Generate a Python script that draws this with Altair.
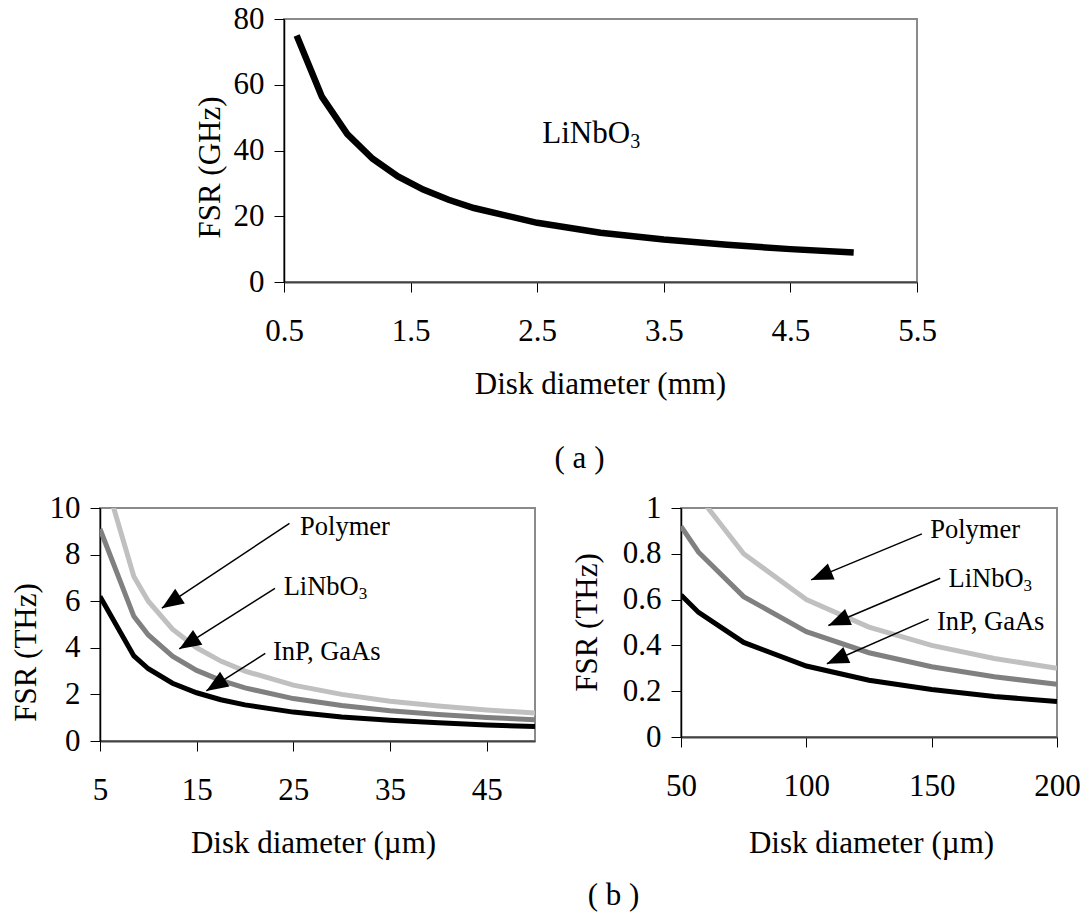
import math

import altair as alt
import pandas as pd

FONT = "Liberation Serif"

# ---- (a) LiNbO3 disk: diameter in mm, FSR in GHz ----
mm_diameter = [0.6, 0.8, 1.0, 1.2, 1.4, 1.6, 1.8, 2.0, 2.5, 3.0, 3.5, 4.0, 4.5, 5.0]
mm_fsr_ghz = [75.0, 56.3, 45.0, 37.5, 32.1, 28.1, 25.0, 22.5, 18.0, 15.0, 12.9, 11.3, 10.0, 9.0]

# ---- (b) left: small disks, diameter in um, FSR in THz ----
um_small = [5, 8.5, 10, 12.5, 15, 17.5, 20, 25, 30, 35, 40, 45, 50]
small_polymer = [12.0, 7.06, 6.0, 4.8, 4.0, 3.43, 3.0, 2.4, 2.0, 1.71, 1.5, 1.33, 1.2]
small_linbo3 = [9.1, 5.35, 4.55, 3.64, 3.03, 2.6, 2.28, 1.82, 1.52, 1.3, 1.14, 1.01, 0.91]
small_inp = [6.2, 3.65, 3.1, 2.48, 2.07, 1.77, 1.55, 1.24, 1.03, 0.89, 0.78, 0.69, 0.62]

# ---- (b) right: larger disks, diameter in um, FSR in THz ----
um_large = [50, 57, 75, 100, 125, 150, 175, 200]
large_polymer = [1.2, 1.053, 0.8, 0.6, 0.48, 0.4, 0.343, 0.3]
large_linbo3 = [0.92, 0.807, 0.613, 0.46, 0.368, 0.307, 0.263, 0.23]
large_inp = [0.62, 0.544, 0.413, 0.31, 0.248, 0.207, 0.177, 0.155]

materials = ["Polymer", "LiNbO", "InP, GaAs"]
subscripts = ["", "3", ""]
material_colors = ["#c0c0c0", "#808080", "#000000"]

# Callout labels (text anchor) and arrows (tail -> head), in data units
small_text_x = [25.7, 24.0, 22.9]
small_text_y = [8.84, 6.27, 3.48]
small_tail_x = [24.6, 23.1, 22.1]
small_tail_y = [9.34, 6.55, 3.76]
small_head_x = [11.4, 13.2, 16.0]
small_head_y = [5.70, 3.95, 2.15]

large_text_x = [149.4, 156.7, 152.1]
large_text_y = [0.868, 0.657, 0.468]
large_tail_x = [146.1, 153.4, 148.8]
large_tail_y = [0.887, 0.693, 0.515]
large_head_x = [101.9, 108.8, 108.2]
large_head_y = [0.686, 0.487, 0.320]

top_label_x = [2.54]
top_label_y = [42.3]

# Arrowhead outline with its tip at the symbol origin
ARROW_HEAD = "M0,0L-0.4,1L0.4,1Z"

AXIS_BASE = dict(
    grid=False,
    labelFont=FONT,
    labelFontSize=31,
    labelColor="black",
    labelFlush=False,
    labelOverlap=False,
    titleFont=FONT,
    titleFontSize=31,
    titleFontWeight="normal",
    titleColor="black",
    tickColor="black",
    tickWidth=1,
    tickSize=10,
)


def x_axis(values, title, title_x, title_y, fmt="~f"):
    return alt.Axis(
        values=values,
        format=fmt,
        title=title,
        titleX=title_x,
        titleY=title_y,
        titleBaseline="alphabetic",
        labelBaseline="alphabetic",
        labelPadding=48,
        domainColor="#444444",
        domainWidth=2,
        **AXIS_BASE,
    )


def y_axis(values, title, title_x, title_y, fmt="~f"):
    return alt.Axis(
        values=values,
        format=fmt,
        title=title,
        titleX=title_x,
        titleY=title_y,
        titleBaseline="alphabetic",
        labelPadding=10,
        domainColor="black",
        domainWidth=1.5,
        **AXIS_BASE,
    )


def head_angle(x0, y0, x1, y1, px_x, px_y):
    dx = (x1 - x0) * px_x
    dy = -(y1 - y0) * px_y
    return math.degrees(math.atan2(dx, -dy)) % 360


def thz_panel(d, series, xdom, ydom, width, height, xticks, yticks,
              text_x, text_y, tail_x, tail_y, head_x, head_y,
              ytitle_x, ytitle_y, xtitle_x, xtitle_y, title=None):
    rows = []
    for name, vals in zip(materials, series):
        for dv, fv in zip(d, vals):
            rows.append({"d": dv, "f": fv, "material": name})
    curves = pd.DataFrame(rows)

    xs = alt.Scale(domain=xdom, nice=False, zero=False)
    ys = alt.Scale(domain=ydom, nice=False, zero=False)

    lines = alt.Chart(curves).mark_line(strokeWidth=5, clip=True).encode(
        x=alt.X("d:Q", scale=xs,
                axis=x_axis(xticks, "Disk diameter (µm)", xtitle_x, xtitle_y)),
        y=alt.Y("f:Q", scale=ys,
                axis=y_axis(yticks, "FSR (THz)", ytitle_x, ytitle_y)),
        color=alt.Color("material:N",
                        scale=alt.Scale(domain=materials, range=material_colors),
                        legend=None),
    )

    px_x = width / (xdom[1] - xdom[0])
    px_y = height / (ydom[1] - ydom[0])
    ann = pd.DataFrame({
        "label": materials,
        "sub": subscripts,
        "tx": text_x, "ty": text_y,
        "x0": tail_x, "y0": tail_y,
        "x1": head_x, "y1": head_y,
        "ang": [head_angle(a, b, c, e, px_x, px_y)
                for a, b, c, e in zip(tail_x, tail_y, head_x, head_y)],
    })

    shafts = alt.Chart(ann).mark_rule(color="black", strokeWidth=1.5).encode(
        x=alt.X("x0:Q", scale=xs), y=alt.Y("y0:Q", scale=ys),
        x2="x1:Q", y2="y1:Q",
    )
    heads = alt.Chart(ann).mark_point(
        shape=ARROW_HEAD, filled=True, color="black", opacity=1, size=1900,
        strokeWidth=0,
    ).encode(
        x=alt.X("x1:Q", scale=xs), y=alt.Y("y1:Q", scale=ys),
        angle=alt.Angle("ang:Q", scale=None),
    )
    labels = alt.Chart(ann).mark_text(
        font=FONT, fontSize=26.5, align="left", baseline="alphabetic", color="black",
    ).encode(
        x=alt.X("tx:Q", scale=xs), y=alt.Y("ty:Q", scale=ys), text="label:N",
    )
    subs = alt.Chart(ann).mark_text(
        font=FONT, fontSize=17, align="left", baseline="alphabetic", color="black",
        dx=75, dy=4,
    ).encode(
        x=alt.X("tx:Q", scale=xs), y=alt.Y("ty:Q", scale=ys), text="sub:N",
    )
    props = dict(width=width, height=height)
    if title is not None:
        props["title"] = title
    return alt.layer(lines, shafts, heads, labels, subs).properties(**props)


# ---- panel (a) ----
top_df = pd.DataFrame({"d": mm_diameter, "f": mm_fsr_ghz})
top_xs = alt.Scale(domain=[0.5, 5.5], nice=False, zero=False)
top_ys = alt.Scale(domain=[0, 80], nice=False)
top_line = alt.Chart(top_df).mark_line(strokeWidth=6.5, color="black").encode(
    x=alt.X("d:Q", scale=top_xs,
            axis=x_axis([0.5, 1.5, 2.5, 3.5, 4.5, 5.5], "Disk diameter (mm)", 316, 111)),
    y=alt.Y("f:Q", scale=top_ys,
            axis=y_axis([0, 20, 40, 60, 80], "FSR (GHz)", -65, 148)),
)
top_lab_df = pd.DataFrame({"tx": top_label_x, "ty": top_label_y,
                           "label": ["LiNbO"], "sub": ["3"]})
top_lab = alt.Chart(top_lab_df).mark_text(
    font=FONT, fontSize=31, align="left", baseline="alphabetic", color="black",
).encode(x=alt.X("tx:Q", scale=top_xs), y=alt.Y("ty:Q", scale=top_ys), text="label:N")
top_sub = alt.Chart(top_lab_df).mark_text(
    font=FONT, fontSize=20, align="left", baseline="alphabetic", color="black",
    dx=88, dy=5,
).encode(x=alt.X("tx:Q", scale=top_xs), y=alt.Y("ty:Q", scale=top_ys), text="sub:N")

top_chart = alt.layer(top_line, top_lab, top_sub).properties(
    width=633, height=263,
    title=alt.TitleParams(text="( a )", orient="bottom", anchor="middle", frame="group",
                          font=FONT, fontSize=31, fontWeight="normal", color="black",
                          offset=45, dx=-21),
)

spacer = alt.Chart(pd.DataFrame({"v": [0]})).mark_point(opacity=0).encode(
    x=alt.X("v:Q", axis=None), y=alt.Y("v:Q", axis=None),
).properties(width=184, height=263, view=alt.ViewBackground(stroke="transparent"))

left_chart = thz_panel(
    um_small, [small_polymer, small_linbo3, small_inp],
    [5, 50], [0, 10], 435, 233, [5, 15, 25, 35, 45], [0, 2, 4, 6, 8, 10],
    small_text_x, small_text_y, small_tail_x, small_tail_y, small_head_x, small_head_y,
    -65, 144, 213, 111,
    title=alt.TitleParams(text="( b )", orient="bottom", anchor="middle", frame="group",
                          font=FONT, fontSize=31, fontWeight="normal", color="black",
                          offset=23, dx=296),
)
right_chart = thz_panel(
    um_large, [large_polymer, large_linbo3, large_inp],
    [50, 200], [0, 1], 376, 229, [50, 100, 150, 200], [0, 0.2, 0.4, 0.6, 0.8, 1],
    large_text_x, large_text_y, large_tail_x, large_tail_y, large_head_x, large_head_y,
    -85, 114, 190, 115,
)

row_a = alt.hconcat(spacer, top_chart, spacing=0, bounds="flush")
row_b = alt.hconcat(left_chart, right_chart, spacing=146, bounds="flush")

chart = alt.vconcat(row_a, row_b, spacing=489, bounds="flush").configure(
    background="white",
    padding={"left": 8, "top": 2, "right": 5, "bottom": 5},
).configure_view(stroke="#8a8a8a", strokeWidth=2)

chart.save("out.html", embed_options={"renderer": "svg", "actions": False})
